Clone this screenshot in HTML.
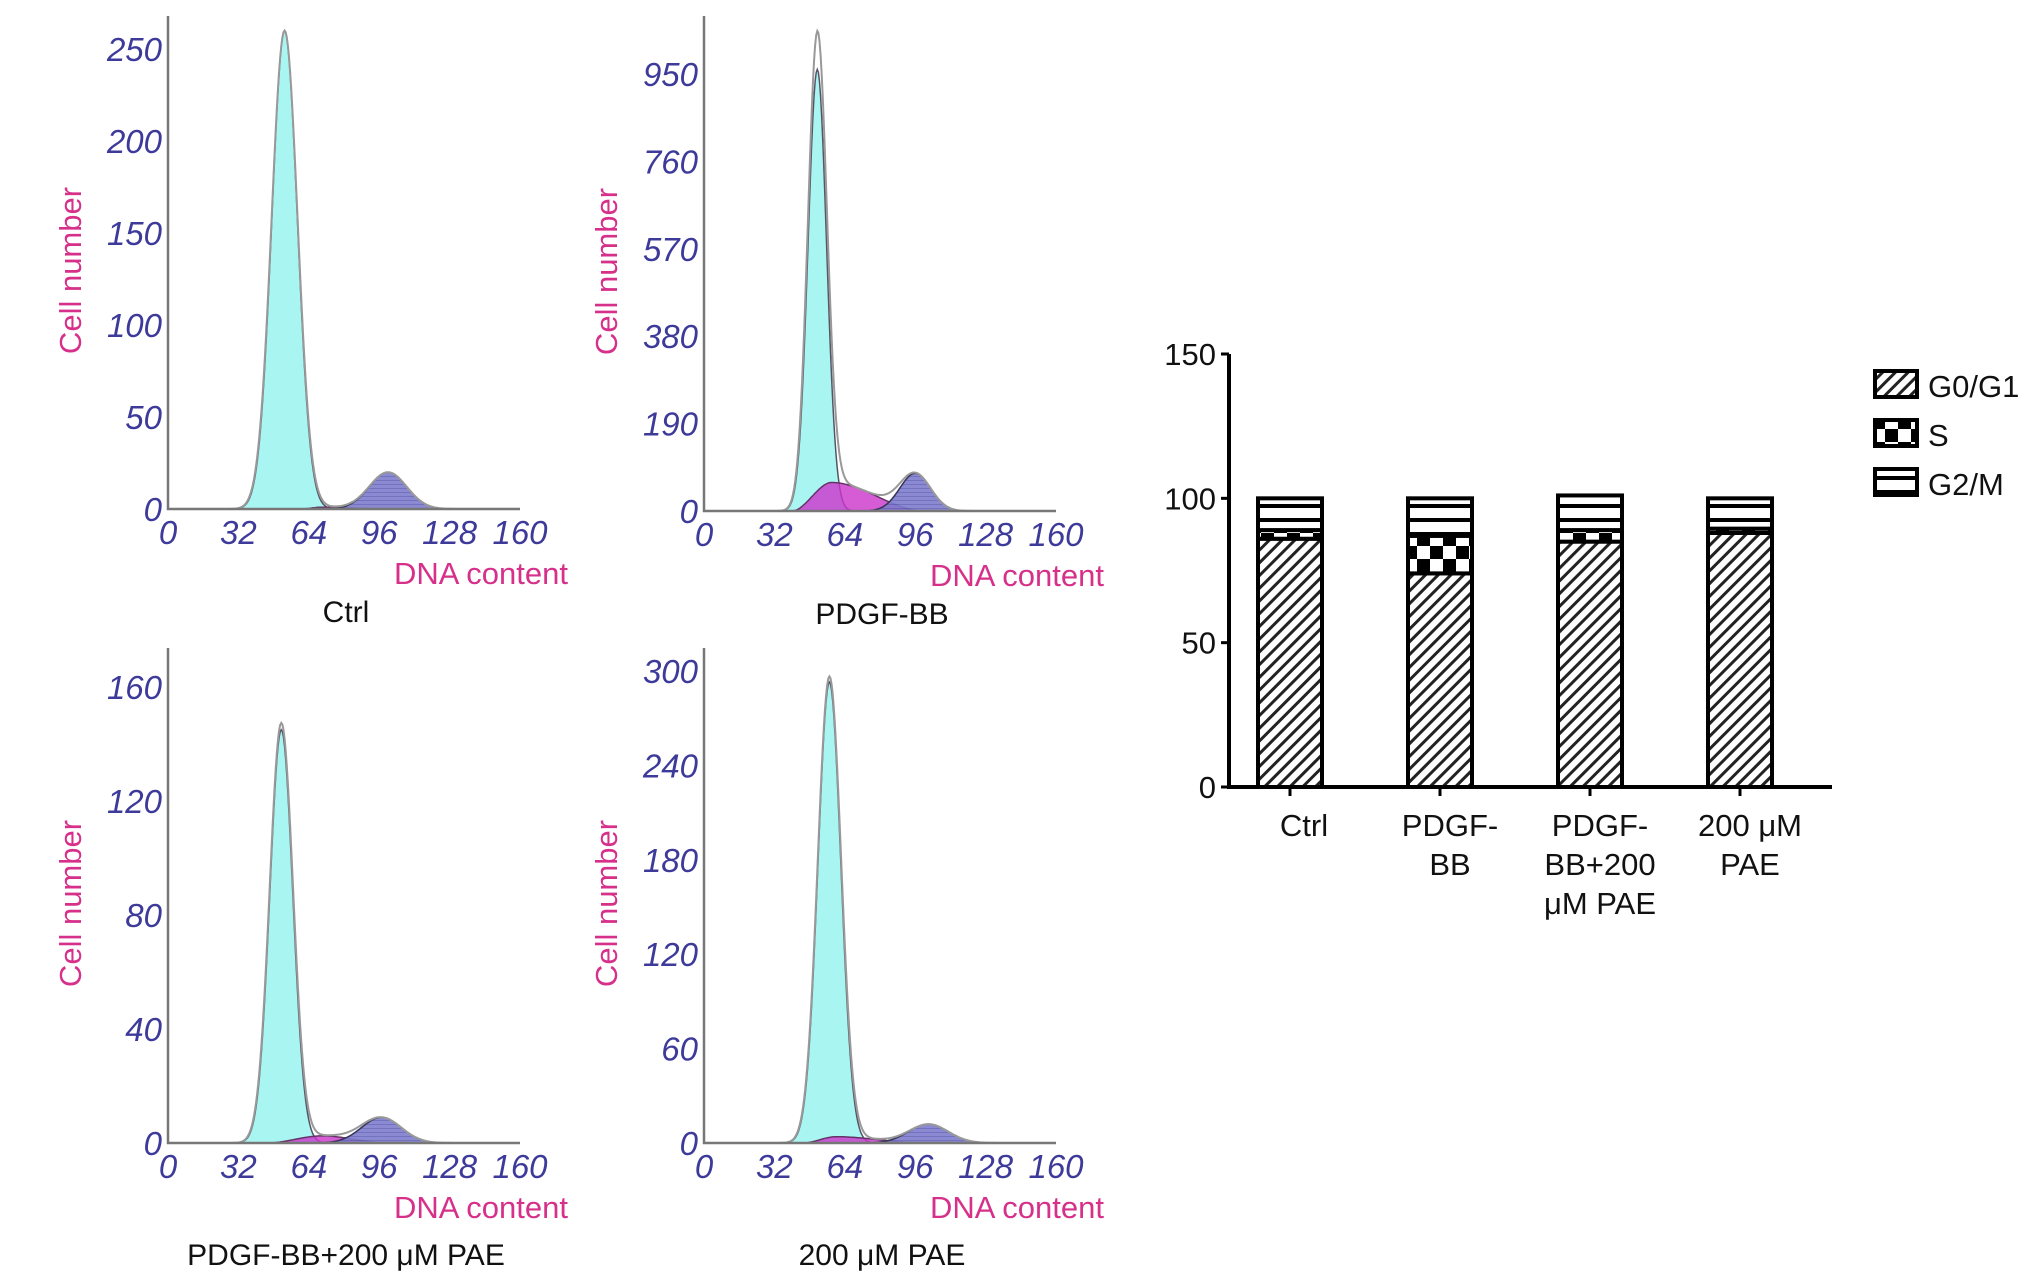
<!DOCTYPE html>
<html><head><meta charset="utf-8"><title>Cell cycle analysis</title>
<style>
html,body{margin:0;padding:0;background:#fff;}
svg{display:block;}
.tick{font-family:"Liberation Sans",sans-serif;font-style:italic;font-size:33px;fill:#3d3a9a;}
.ylab,.xlab{font-family:"Liberation Sans",sans-serif;font-size:31px;fill:#d6308a;}
.ptitle{font-family:"Liberation Sans",sans-serif;font-size:30px;fill:#111;}
.btick{font-family:"Liberation Sans",sans-serif;font-size:31px;fill:#111;}
</style></head>
<body>
<svg id="fig" width="2032" height="1287" viewBox="0 0 2032 1287" xmlns="http://www.w3.org/2000/svg">
<defs>
<pattern id="hatch" patternUnits="userSpaceOnUse" width="9" height="9" patternTransform="rotate(45)">
<rect width="9" height="9" fill="#fff"/><rect x="0" y="0" width="3" height="9" fill="#222"/>
</pattern>
<pattern id="check" patternUnits="userSpaceOnUse" width="26" height="26">
<rect width="26" height="26" fill="#fff"/><rect width="13" height="13" fill="#000"/><rect x="13" y="13" width="13" height="13" fill="#000"/>
</pattern>
<pattern id="hlines" patternUnits="userSpaceOnUse" width="10" height="14">
<rect width="10" height="14" fill="#fff"/><rect y="0" width="10" height="4" fill="#000"/>
</pattern>
<pattern id="bluehatch" patternUnits="userSpaceOnUse" width="4" height="4">
<rect width="4" height="4" fill="#7d7ccc"/><rect width="4" height="1" fill="#6463b8"/>
</pattern>
</defs>
<g id="hist"></g>
<g id="bars"></g>
</svg>
<script>
// ---- Histogram data (peak parameters) ----
const panelNames = ["Ctrl", "PDGF-BB", "PDGF-BB+200 \u03bcM PAE", "200 \u03bcM PAE"];
const yTickMax = [250, 950, 160, 300];
const yTickStep = [50, 190, 40, 60];
const xTicks = [0, 32, 64, 96, 128, 160];
const g1Mean = [53, 51.5, 51.5, 57];
const g1Sd = [5.8, 4.2, 5.2, 5.2];
const g1Height = [260, 960, 145, 293];
const sStart = [60, 40, 45, 45];
const sPeak = [70, 58, 70, 60];
const sEnd = [100, 100, 100, 100];
const sHeight = [1, 62, 2.5, 4];
const g2Mean = [100, 96, 97, 102];
const g2Sd = [8.5, 7, 9, 9];
const g2Height = [20, 82, 9, 12];
const envExtra = [0, 40, 2, 0];

// ---- Bar chart data ----
const barCategories = [["Ctrl"], ["PDGF-", "BB"], ["PDGF-", "BB+200", "\u03bcM PAE"], ["200 \u03bcM", "PAE"]];
const g0g1Values = [86, 74, 85, 88];
const sValues = [3, 13, 4, 1.5];
const g2mValues = [11, 13, 12, 10.5];
const barTicks = [0, 50, 100, 150];
const legendLabels = ["G0/G1", "S", "G2/M"];

const NS = "http://www.w3.org/2000/svg";
function mk(tag, attrs, parent, text) {
  const e = document.createElementNS(NS, tag);
  for (const k in attrs) e.setAttribute(k, attrs[k]);
  if (text !== undefined) e.textContent = text;
  parent.appendChild(e);
  return e;
}
const gauss = (x, m, s, h) => h * Math.exp(-0.5 * ((x - m) / s) ** 2);
function sComp(i, x) {
  if (x <= sStart[i] || x >= sEnd[i]) return 0;
  if (x < sPeak[i]) { const t = (x - sStart[i]) / (sPeak[i] - sStart[i]); return sHeight[i] * (3 * t * t - 2 * t * t * t); }
  const t = (sEnd[i] - x) / (sEnd[i] - sPeak[i]); return sHeight[i] * (3 * t * t - 2 * t * t * t);
}

const origins = [[168, 509, 16], [704, 511, 16], [168, 1143, 648], [704, 1143, 648]];
const hist = document.getElementById("hist");
panelNames.forEach((name, i) => {
  const [ox, oy, top] = origins[i];
  const yTopPx = [49, 74, 687, 671][i];
  const xs = v => ox + v * 2.2;
  const ys = v => oy - v * (oy - yTopPx) / yTickMax[i];
  const g = mk("g", {}, hist);
  
  
  function area(fn, fill, stroke, op, nm) {
    let d = "M" + xs(0) + "," + oy;
    for (let x = 0; x <= 160; x += 0.5) d += " L" + xs(x).toFixed(1) + "," + ys(fn(x)).toFixed(1);
    d += " L" + xs(160) + "," + oy + " Z";
    const p = mk("path", { d: d, fill: fill, stroke: stroke, "stroke-width": 1.5, "fill-opacity": op }, g);
    
    
  }
  area(x => gauss(x, g1Mean[i], g1Sd[i], g1Height[i]), "#a9f5f2", "#556", 1, "g1-peak");
  area(x => sComp(i, x), "#cc33cc", "#636", 0.8, "s-phase");
  area(x => gauss(x, g2Mean[i], g2Sd[i], g2Height[i]), "url(#bluehatch)", "#335", 0.9, "g2-peak");
  let d = "";
  for (let x = 20; x <= 140; x += 0.5) {
    const v = gauss(x, g1Mean[i], g1Sd[i] * 1.02, g1Height[i] + envExtra[i]) + sComp(i, x) + gauss(x, g2Mean[i], g2Sd[i], g2Height[i]);
    d += (d ? " L" : "M") + xs(x).toFixed(1) + "," + ys(v).toFixed(1);
  }
  const env = mk("path", { d: d, fill: "none", stroke: "#999", "stroke-width": 2 }, g);
  
  
  const ax = mk("path", { d: `M${ox},${top} L${ox},${oy} L${xs(160)},${oy}`, fill: "none", stroke: "#777", "stroke-width": 2.5 }, g);
  
  
  for (let v = 0; v <= yTickMax[i]; v += yTickStep[i]) {
    const t = mk("text", { x: ox - 6, y: ys(v) + 12, "text-anchor": "end", class: "tick" }, g, v);
    
    
  }
  xTicks.forEach(v => {
    const t = mk("text", { x: xs(v), y: oy + 35, "text-anchor": "middle", class: "tick" }, g, v);
    
    
  });
  const yl = mk("text", { x: 0, y: 0, transform: `translate(${ox - 87},${(top + oy) / 2 + 8}) rotate(-90)`, "text-anchor": "middle", class: "ylab" }, g, "Cell number");
  
  
  const xl = mk("text", { x: ox + 400, y: oy + 75, "text-anchor": "end", class: "xlab" }, g, "DNA content");
  
  
  const pt = mk("text", { x: ox + 178, y: oy + (i < 2 ? 113 : 122), "text-anchor": "middle", class: "ptitle" }, g, name);
  
  
});

// ---- Stacked bars ----
const bars = document.getElementById("bars");
const bx0 = 1229, by0 = 787, bpu = (787 - 354) / 150;
const by = v => by0 - v * bpu;
const bcx = i => 1290 + i * 150;
const bw = 64;
barTicks.forEach(v => {
  const t = mk("text", { x: 1216, y: by(v) + 11, "text-anchor": "end", class: "btick" }, bars, v);
  
  
  mk("line", { x1: bx0 - 8, x2: bx0, y1: by(v), y2: by(v), stroke: "#000", "stroke-width": 3 }, bars);
});
barCategories.forEach((lines, i) => {
  const cx = bcx(i);
  const segs = [[0, g0g1Values[i], "url(#hatch)", "g0g1"], [g0g1Values[i], g0g1Values[i] + sValues[i], "url(#check)", "s"], [g0g1Values[i] + sValues[i], g0g1Values[i] + sValues[i] + g2mValues[i], "url(#hlines)", "g2m"]];
  segs.forEach(s => {
    const r = mk("rect", { x: cx - bw / 2, y: by(s[1]), width: bw, height: Math.max(0, by(s[0]) - by(s[1])), fill: s[2], stroke: "#000", "stroke-width": 4 }, bars);
    
    
  });
  mk("line", { x1: cx, x2: cx, y1: by0, y2: by0 + 9, stroke: "#000", "stroke-width": 3 }, bars);
  lines.forEach((ln, k) => {
    const t = mk("text", { x: cx + 10 + (i === 0 ? 4 : 0), y: 836 + k * 39, "text-anchor": "middle", class: "btick" }, bars, ln);
    
    
  });
});
const bax = mk("path", { d: `M${bx0},${by(150)} L${bx0},${by0} L1832,${by0}`, fill: "none", stroke: "#000", "stroke-width": 4 }, bars);


const legFills = ["url(#hatch)", "url(#check)", "url(#hlines)"];
legendLabels.forEach((lab, k) => {
  const y = 371 + k * 49;
  const r = mk("rect", { x: 1875, y: y, width: 42, height: 26, fill: legFills[k], stroke: "#000", "stroke-width": 4 }, bars);
  
  
  const t = mk("text", { x: 1928, y: y + 26, class: "btick" }, bars, lab);
  
  
});
</script>
</body></html>
